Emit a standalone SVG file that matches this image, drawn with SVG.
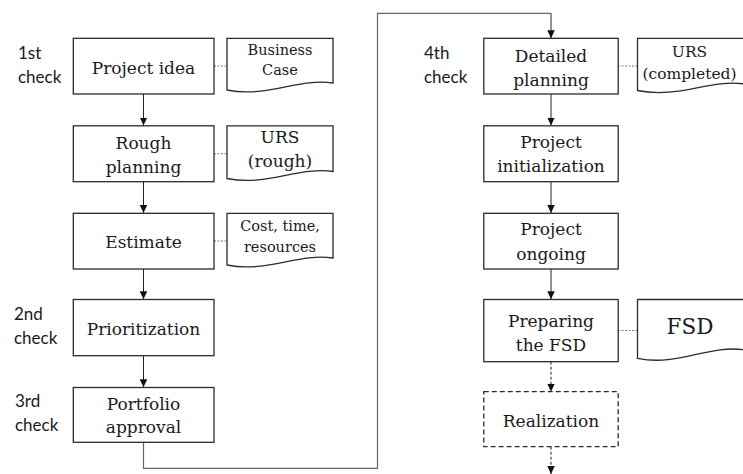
<svg xmlns="http://www.w3.org/2000/svg" width="743" height="474" viewBox="0 0 743 474">
<style>
.box{fill:#fff;stroke:#2b2b2b;stroke-width:1.3}
.dbox{fill:#fff;stroke:#2b2b2b;stroke-width:1.3;stroke-dasharray:5 3}
.doc{fill:#fff;stroke:#2b2b2b;stroke-width:1.3}
.lbl{font-family:"DejaVu Serif","Liberation Serif",serif;font-size:17px;fill:#1a1a1a;text-anchor:middle}
.sml{font-family:"DejaVu Serif","Liberation Serif",serif;font-size:14.5px;fill:#1a1a1a;text-anchor:middle}
.mid{font-family:"DejaVu Serif","Liberation Serif",serif;font-size:15.5px;fill:#1a1a1a;text-anchor:middle}
.big{font-family:"DejaVu Serif","Liberation Serif",serif;font-size:21.5px;fill:#1a1a1a;text-anchor:middle}
.chk{font-family:Lato,"Open Sans",sans-serif;font-size:17px;fill:#1a1a1a}
.arr{fill:none;stroke:#222;stroke-width:1}
.arrd{fill:none;stroke:#222;stroke-width:1;stroke-dasharray:3 2}
.dot{fill:none;stroke:#777;stroke-width:1;stroke-dasharray:2 1.5}
.long{fill:none;stroke:#666;stroke-width:1.2}
</style>
<defs>
<marker id="ah" markerUnits="userSpaceOnUse" markerWidth="8" markerHeight="8" refX="8" refY="3.75" orient="auto">
<path d="M0,0 L8,3.75 L0,7.5 z" fill="#111"/>
</marker>
</defs>

<g id="labels">
<text class="chk" x="18" y="59">1st</text>
<text class="chk" x="18" y="83">check</text>
<text class="chk" x="14" y="320">2nd</text>
<text class="chk" x="14" y="344">check</text>
<text class="chk" x="15" y="407">3rd</text>
<text class="chk" x="15" y="431">check</text>
<text class="chk" x="424" y="59">4th</text>
<text class="chk" x="424" y="83">check</text>
</g>

<g id="connectors">
<path class="arr" d="M143.5,94 V125.5" marker-end="url(#ah)"/>
<path class="arr" d="M143.5,181.7 V213" marker-end="url(#ah)"/>
<path class="arr" d="M143.5,269 V299.3" marker-end="url(#ah)"/>
<path class="arr" d="M143.5,355.7 V387.3" marker-end="url(#ah)"/>
<path class="long" d="M143.5,442.3 V468.3 H377.5 V13.3 H551" />
<path class="arr" d="M551,13.3 V38.3" marker-end="url(#ah)"/>
<path class="arr" d="M551,94 V125.5" marker-end="url(#ah)"/>
<path class="arr" d="M551,181.7 V213" marker-end="url(#ah)"/>
<path class="arr" d="M551,269 V299.3" marker-end="url(#ah)"/>
<path class="arrd" d="M551,361.7 V391.7" marker-end="url(#ah)"/>
<path class="arrd" d="M551,446.7 V474" marker-end="url(#ah)"/>
<path class="dot" d="M214,66 H227"/>
<path class="dot" d="M214,153.8 H227"/>
<path class="dot" d="M214,241 H227"/>
<path class="dot" d="M618,66 H637.5"/>
<path class="dot" d="M618,330.5 H637.5"/>
</g>

<g id="project-idea">
<rect class="box" x="73.3" y="38.3" width="140.7" height="55.7"/>
<text class="lbl" x="143.5" y="73.5">Project idea</text>
</g>
<g id="rough-planning">
<rect class="box" x="73.3" y="125.8" width="140.7" height="55.9"/>
<text class="lbl" x="143.5" y="149">Rough</text>
<text class="lbl" x="143.5" y="173">planning</text>
</g>
<g id="estimate">
<rect class="box" x="73.3" y="213.3" width="140.7" height="55.7"/>
<text class="lbl" x="143.5" y="247.5">Estimate</text>
</g>
<g id="prioritization">
<rect class="box" x="73.3" y="299.5" width="140.7" height="56.2"/>
<text class="lbl" x="143.5" y="334.5">Prioritization</text>
</g>
<g id="portfolio-approval">
<rect class="box" x="73.3" y="387.5" width="140.7" height="54.8"/>
<text class="lbl" x="143.5" y="409.5">Portfolio</text>
<text class="lbl" x="143.5" y="433">approval</text>
</g>

<g id="business-case">
<path class="doc" d="M227,38.3 H333 V83 C298,78 267,98 227,90 Z"/>
<text class="sml" x="280" y="55">Business</text>
<text class="sml" x="280" y="75">Case</text>
</g>
<g id="urs-rough">
<path class="doc" d="M227,125.8 H333 V171.5 C298,166.5 267,186.5 227,178.5 Z"/>
<text class="lbl" x="280" y="142.7" font-size="17.5">URS</text>
<text class="lbl" x="280" y="166.7" font-size="17.5">(rough)</text>
</g>
<g id="cost-time">
<path class="doc" d="M227,213.3 H333 V258 C298,253 267,273 227,265 Z"/>
<text class="sml" x="280" y="231">Cost, time,</text>
<text class="sml" x="280" y="251.5">resources</text>
</g>

<g id="detailed-planning">
<rect class="box" x="483.8" y="38.3" width="134.4" height="55.7"/>
<text class="lbl" x="551" y="61.5">Detailed</text>
<text class="lbl" x="551" y="85.5">planning</text>
</g>
<g id="project-initialization">
<rect class="box" x="483.8" y="125.8" width="134.4" height="55.9"/>
<text class="lbl" x="551" y="148">Project</text>
<text class="lbl" x="551" y="172">initialization</text>
</g>
<g id="project-ongoing">
<rect class="box" x="483.8" y="213.3" width="134.4" height="55.7"/>
<text class="lbl" x="551" y="235">Project</text>
<text class="lbl" x="551" y="259.5">ongoing</text>
</g>
<g id="preparing-fsd">
<rect class="box" x="483.8" y="299.5" width="134.4" height="62.2"/>
<text class="lbl" x="551" y="326.5">Preparing</text>
<text class="lbl" x="551" y="350.5">the FSD</text>
</g>
<g id="realization">
<rect class="dbox" x="483.8" y="391.7" width="134.4" height="55"/>
<text class="lbl" x="551" y="426.5">Realization</text>
</g>

<g id="urs-completed">
<path class="doc" d="M637.5,38.3 H745 V84 C709,79 678,99 637.5,90.5 Z"/>
<text class="mid" x="689.5" y="57">URS</text>
<text class="mid" x="689.5" y="79">(completed)</text>
</g>
<g id="fsd">
<path class="doc" d="M637.5,299.5 H745 V350 C709,344 678,367 637.5,358.3 Z"/>
<text class="big" x="690" y="334.3">FSD</text>
</g>
</svg>
